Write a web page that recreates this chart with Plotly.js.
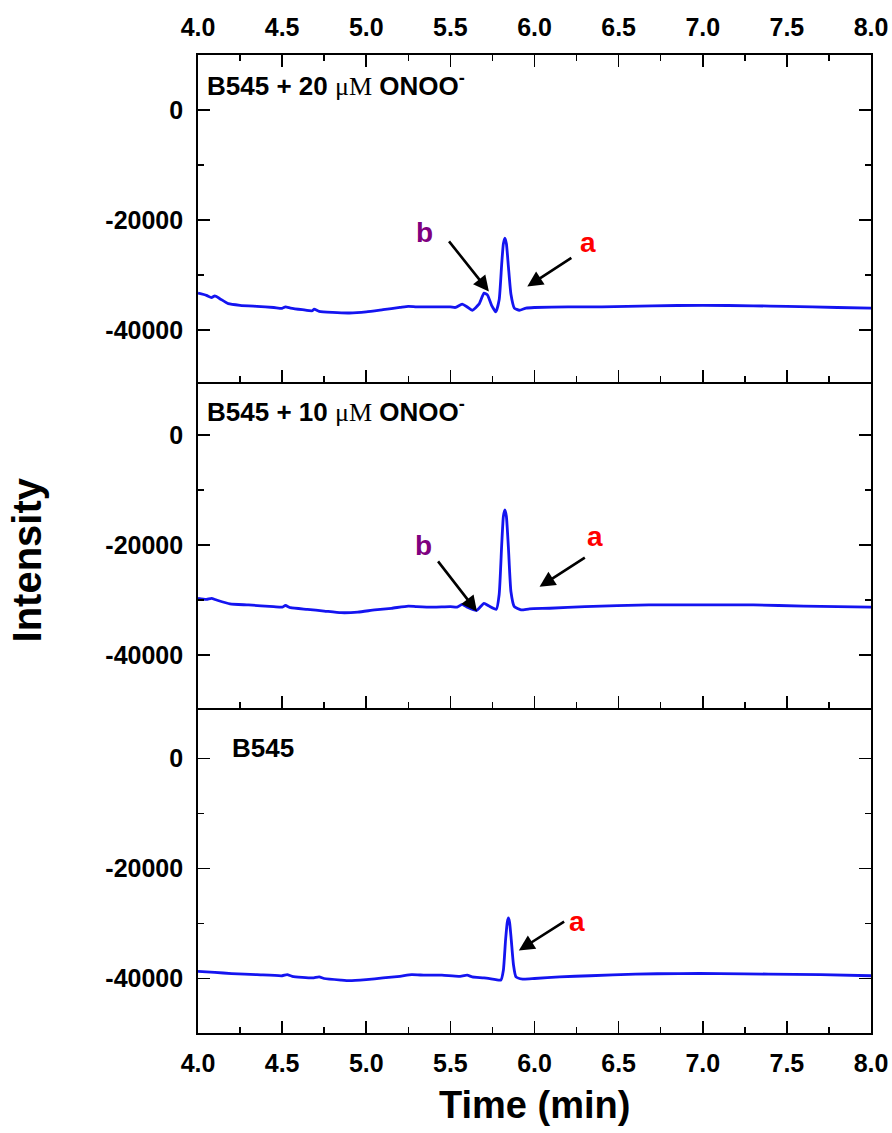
<!DOCTYPE html>
<html>
<head>
<meta charset="utf-8">
<script src="https://cdn.plot.ly/plotly-3.0.1.min.js"></script>
<style>
  html, body { margin: 0; padding: 0; background: #ffffff; }
  #chart { width: 892px; height: 1133px; }
</style>
</head>
<body>
<div id="chart"></div>
<script>
// Chromatograms of B545 alone and after ONOO- treatment (retention time in min, detector intensity)

// B545 + 20 uM ONOO-
const time20 = [4.00, 4.05, 4.08, 4.10, 4.13, 4.18, 4.25, 4.35, 4.45, 4.50, 4.52, 4.55, 4.62, 4.68, 4.69, 4.72, 4.80, 4.90,
  5.00, 5.10, 5.20, 5.25, 5.30, 5.40, 5.50, 5.53, 5.57, 5.60, 5.63, 5.67, 5.70, 5.72, 5.745, 5.77, 5.79, 5.805, 5.815,
  5.824, 5.833, 5.845, 5.86, 5.88, 5.91, 5.95, 6.00, 6.20, 6.40, 6.70, 7.00, 7.30, 7.50, 7.80, 8.00];
const int20 = [-33300, -33700, -34100, -33800, -34300, -35200, -35500, -35700, -35900, -36050, -35800, -36000, -36300, -36500, -36200, -36600, -36800, -36900,
  -36700, -36300, -35900, -35700, -35800, -35800, -35800, -35900, -35300, -35800, -36400, -35300, -33300, -33600, -35500, -36700, -34500, -28000, -24300,
  -23300, -24300, -28500, -33500, -36000, -36400, -36000, -35900, -35800, -35800, -35600, -35500, -35600, -35700, -35900, -36000];

// B545 + 10 uM ONOO-
const time10 = [4.00, 4.05, 4.08, 4.11, 4.19, 4.30, 4.45, 4.50, 4.52, 4.55, 4.65, 4.75, 4.85, 4.95, 5.05, 5.15, 5.25, 5.30,
  5.40, 5.50, 5.54, 5.57, 5.60, 5.655, 5.70, 5.73, 5.773, 5.79, 5.805, 5.815, 5.824, 5.833, 5.845, 5.86, 5.88, 5.92,
  5.97, 6.09, 6.30, 6.68, 7.00, 7.30, 7.60, 8.00];
const int10 = [-29700, -29900, -29700, -30000, -30700, -30900, -31200, -31300, -31000, -31400, -31700, -32000, -32300, -32200, -31800, -31500, -31100, -31200,
  -31300, -31200, -31300, -30800, -31300, -31900, -30600, -31100, -31700, -29000, -20000, -14800, -13600, -14800, -20500, -28500, -31200, -31800,
  -31600, -31500, -31200, -30900, -30900, -30900, -31100, -31300];

// B545
const time0 = [4.00, 4.10, 4.20, 4.35, 4.50, 4.53, 4.56, 4.68, 4.72, 4.75, 4.85, 4.90, 5.00, 5.10, 5.20, 5.27, 5.35, 5.45,
  5.55, 5.60, 5.63, 5.70, 5.77, 5.80, 5.815, 5.828, 5.838, 5.845, 5.852, 5.862, 5.875, 5.89, 5.93, 6.00, 6.15, 6.33,
  6.60, 6.86, 7.10, 7.39, 7.70, 8.00];
const int0 = [-38700, -38900, -39100, -39300, -39500, -39300, -39600, -39900, -39700, -40000, -40300, -40400, -40200, -39900, -39600, -39300, -39400, -39400,
  -39600, -39400, -39700, -39900, -40200, -40300, -38500, -33000, -29800, -29000, -29800, -33000, -37500, -39700, -40100, -40000, -39700, -39500,
  -39200, -39100, -39100, -39200, -39300, -39500];

// axis tick labels
const yTickVals = [0, -20000, -40000];
const yTickText = ['0', '-20000', '-40000'];

// panel captions
const panelLabels = ['B545 + 20 <span style="font-family:\'Liberation Serif\',\'Times New Roman\',serif;font-weight:normal">μM</span> ONOO<sup>-</sup>',
                     'B545 + 10 <span style="font-family:\'Liberation Serif\',\'Times New Roman\',serif;font-weight:normal">μM</span> ONOO<sup>-</sup>',
                     'B545'];
const panelLabelX = [4.04, 4.04, 4.19];
const panelLabelY = [4600, 4400, 2000];

// peak markers: letter, panel, arrow head (x, y), arrow tail (x, y), letter position (x, y)
const peakLetters = ['b', 'a', 'b', 'a', 'a'];
const peakPanel   = [1, 1, 2, 2, 3];
const headX = [5.729, 5.957, 5.658, 6.030, 5.907];
const headY = [-33000, -32100, -32100, -27600, -34900];
const tailX = [5.485, 6.228, 5.420, 6.308, 6.185];
const tailY = [-23600, -26700, -22700, -22100, -29500];
const letterX = [5.347, 6.316, 5.341, 6.357, 6.250];
const letterY = [-22200, -24000, -20000, -18500, -29700];
const letterColor = {a: '#ff0000', b: '#800080'};

const lineColor = '#1414f0';
const FONT = 'Liberation Sans, Arial, sans-serif';

function trace(x, y, n) {
  return {
    x: x, y: y, type: 'scatter', mode: 'lines',
    line: {color: lineColor, width: 2.8, shape: 'spline', smoothing: 0.5},
    xaxis: n === 1 ? 'x' : 'x' + n, yaxis: n === 1 ? 'y' : 'y' + n,
    hoverinfo: 'skip', showlegend: false
  };
}

const data = [trace(time20, int20, 1), trace(time10, int10, 2), trace(time0, int0, 3)];

const tickFont = {family: FONT, size: 25, color: '#000', weight: 'bold'};

function xaxis(domainAnchor, side, showLabels, mirror) {
  return {
    anchor: domainAnchor, range: [4, 8], dtick: 0.5, tick0: 4, tickformat: '.1f',
    side: side, showticklabels: showLabels, ticks: 'inside', ticklen: 12, tickwidth: 1.6, tickcolor: '#000',
    minor: {dtick: 0.25, ticks: 'inside', ticklen: 6, tickwidth: 1.6, tickcolor: '#000'},
    showline: true, linecolor: '#000', linewidth: 1.8, mirror: mirror,
    showgrid: false, zeroline: false, tickfont: tickFont, ticklabelstandoff: 7
  };
}
function yaxis(domain, range, xanchor) {
  return {
    anchor: xanchor, domain: domain, range: range,
    tickmode: 'array', tickvals: yTickVals, ticktext: yTickText,
    ticks: 'inside', ticklen: 12, tickwidth: 1.6, tickcolor: '#000',
    minor: {tickmode: 'linear', tick0: 0, dtick: 10000, ticks: 'inside', ticklen: 6, tickwidth: 1.6, tickcolor: '#000'},
    showline: true, linecolor: '#000', linewidth: 1.8, mirror: 'ticks',
    showgrid: false, zeroline: false, tickfont: tickFont, ticklabelstandoff: 8
  };
}

const annotations = [];
for (let i = 0; i < 3; i++) {
  const n = i + 1;
  annotations.push({
    text: panelLabels[i], x: panelLabelX[i], y: panelLabelY[i],
    xref: n === 1 ? 'x' : 'x' + n, yref: n === 1 ? 'y' : 'y' + n,
    xanchor: 'left', yanchor: 'middle', showarrow: false,
    font: {family: FONT, size: 26, color: '#000', weight: 'bold'}
  });
}
for (let i = 0; i < peakLetters.length; i++) {
  const n = peakPanel[i];
  const xr = n === 1 ? 'x' : 'x' + n, yr = n === 1 ? 'y' : 'y' + n;
  annotations.push({
    text: '', x: headX[i], y: headY[i], xref: xr, yref: yr,
    showarrow: true, ax: tailX[i], ay: tailY[i], axref: xr, ayref: yr,
    arrowhead: 2, arrowsize: 1.2, arrowwidth: 2.6, arrowcolor: '#000', standoff: 0
  });
  annotations.push({
    text: peakLetters[i], x: letterX[i], y: letterY[i], xref: xr, yref: yr,
    showarrow: false, xanchor: 'center', yanchor: 'middle',
    font: {family: FONT, size: 28, color: letterColor[peakLetters[i]], weight: 'bold'}
  });
}
annotations.push({
  text: 'Intensity', xref: 'paper', yref: 'paper', x: -0.2535, y: 0.4836, textangle: -90,
  showarrow: false, xanchor: 'center', yanchor: 'middle',
  font: {family: FONT, size: 40, color: '#000', weight: 'bold'}
});
annotations.push({
  text: 'Time (min)', xref: 'paper', yref: 'paper', x: 0.5004, y: -0.0736,
  showarrow: false, xanchor: 'center', yanchor: 'middle',
  font: {family: FONT, size: 38, color: '#000', weight: 'bold'}
});

const layout = {
  width: 892, height: 1133,
  margin: {l: 198, r: 21, t: 55, b: 100},
  paper_bgcolor: '#ffffff', plot_bgcolor: '#ffffff',
  showlegend: false,
  xaxis: xaxis('y', 'top', true, 'ticks'),
  xaxis2: xaxis('y2', 'bottom', false, false),
  xaxis3: xaxis('y3', 'bottom', true, false),
  yaxis: yaxis([0.6656, 1], [-49455, 10000], 'x'),
  yaxis2: yaxis([0.3323, 0.6656], [-49636, 9636], 'x2'),
  yaxis3: yaxis([0, 0.3323], [-49909, 9182], 'x3'),
  annotations: annotations
};

Plotly.newPlot('chart', data, layout, {staticPlot: true, displayModeBar: false});
</script>
</body>
</html>
